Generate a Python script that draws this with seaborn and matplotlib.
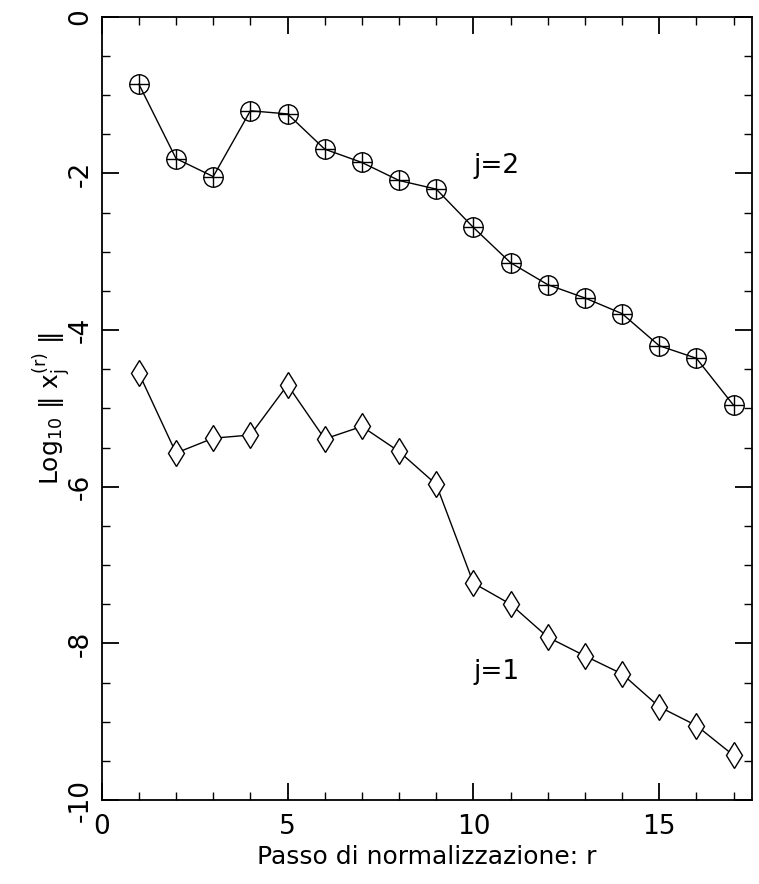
import numpy as np
import pandas as pd
import seaborn as sns
import matplotlib.pyplot as plt
from matplotlib.ticker import MultipleLocator

# --- data ---
steps = list(range(1, 18))
log_norm_j2 = [-0.86, -1.81, -2.04, -1.20, -1.24, -1.69, -1.86, -2.09, -2.20,
               -2.69, -3.14, -3.42, -3.59, -3.79, -4.20, -4.36, -4.96]
log_norm_j1 = [-4.55, -5.57, -5.38, -5.34, -4.70, -5.39, -5.23, -5.55, -5.97,
               -7.23, -7.50, -7.92, -8.16, -8.39, -8.81, -9.05, -9.43]

df = pd.DataFrame({'r': steps, 'j2': log_norm_j2, 'j1': log_norm_j1})

sns.set_theme(style='ticks')
plt.rcParams['font.family'] = ['DejaVu Sans']
plt.rcParams['axes.unicode_minus'] = False
plt.rcParams['text.color'] = 'black'
plt.rcParams['axes.labelcolor'] = 'black'
plt.rcParams['xtick.color'] = 'black'
plt.rcParams['ytick.color'] = 'black'
plt.rcParams['mathtext.default'] = 'regular'

fig = plt.figure(figsize=(7.59, 8.84), dpi=100)
ax = fig.add_axes([0.134, 0.095, 0.857, 0.886])

# j=2 : circle with a plus inside
sns.lineplot(data=df, x='r', y='j2', ax=ax, color='black', linewidth=1,
             marker='o', markersize=14, markerfacecolor='none',
             markeredgecolor='black', markeredgewidth=1)
sns.scatterplot(data=df, x='r', y='j2', ax=ax, color='black', marker='+',
                s=196, linewidth=1, zorder=5)

# j=1 : diamonds
sns.lineplot(data=df, x='r', y='j1', ax=ax, color='black', linewidth=1,
             marker='d', markersize=13, markerfacecolor='white',
             markeredgecolor='black', markeredgewidth=1)

ax.text(10.0, -2.0, 'j=2', fontsize=19, color='black')
ax.text(10.0, -8.45, 'j=1', fontsize=19, color='black')

ax.set_xlim(0, 17.5)
ax.set_ylim(-10, 0)
ax.xaxis.set_major_locator(MultipleLocator(5))
ax.xaxis.set_minor_locator(MultipleLocator(1))
ax.yaxis.set_major_locator(MultipleLocator(2))
ax.yaxis.set_minor_locator(MultipleLocator(0.5))
ax.tick_params(which='both', direction='in', top=True, right=True, color='black')
ax.tick_params(which='major', length=12, width=1.3, labelsize=19)
ax.tick_params(axis='x', which='major', pad=10)
ax.tick_params(axis='y', which='major', pad=6)
ax.tick_params(which='minor', length=6, width=1)
for lab in ax.get_yticklabels():
    lab.set_rotation(90)
    lab.set_va('center')
for s in ax.spines.values():
    s.set_color('black')
    s.set_linewidth(1.3)

ax.set_xlabel('Passo di normalizzazione: r', fontsize=18, labelpad=4)
ax.set_ylabel(r'Log$_{10}$ ‖ x$_j^{(r)}$ ‖', fontsize=18, labelpad=-4)

plt.savefig('out.png', dpi=100)
plt.close()
